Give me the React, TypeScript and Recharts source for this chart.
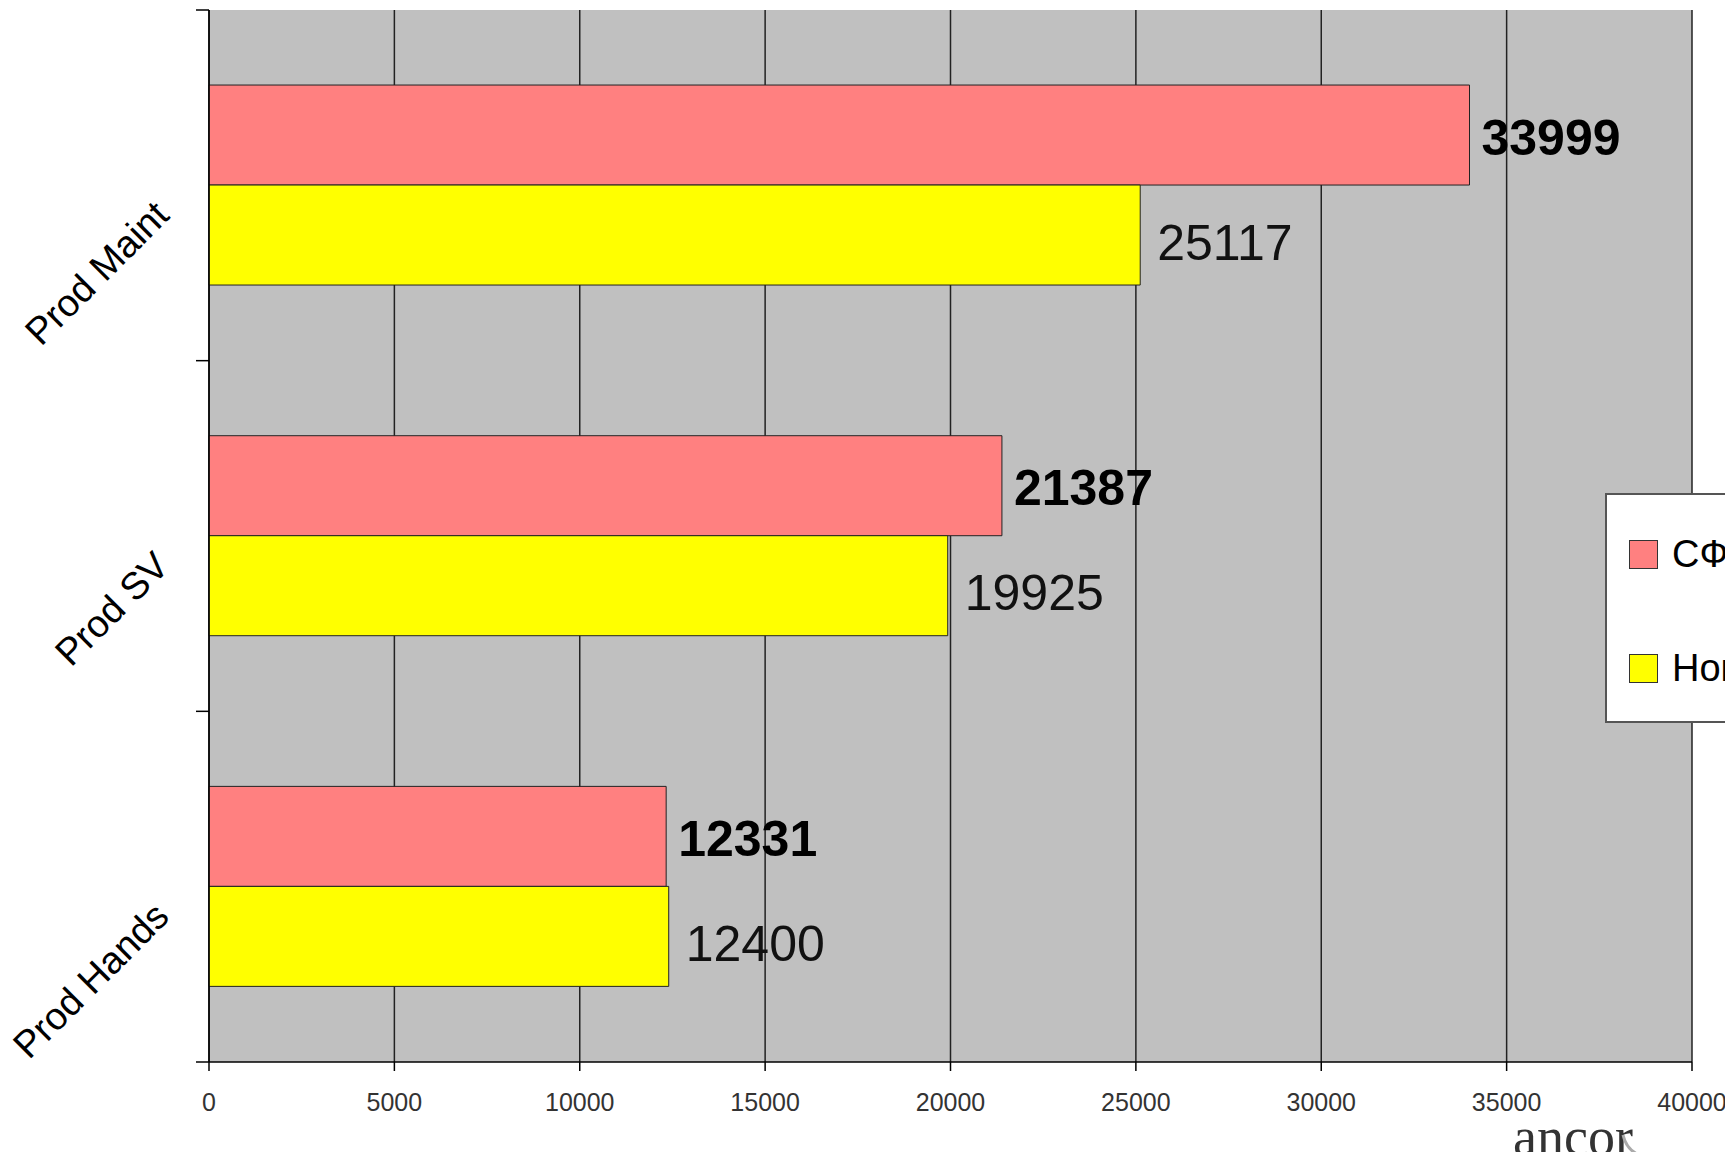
import { BarChart, Bar, XAxis, YAxis, CartesianGrid, LabelList, Legend } from "recharts";

// категории сверху вниз
const categories = ["Prod Maint", "Prod SV", "Prod Hands"];
const sfValues = [33999, 21387, 12331];
const novValues = [25117, 19925, 12400];
const seriesNames = ["СФ", "Новая"];
const xTicks = [0, 5000, 10000, 15000, 20000, 25000, 30000, 35000, 40000];

const data = categories.map((name, i) => ({
    name,
    sf: sfValues[i],
    nov: novValues[i],
}));

// подпись под 45° + засечки на границах категорий (как в Excel)
const CategoryTick = (props: any) => {
    const { x, y, payload, index, height, visibleTicksCount } = props;
    const count = visibleTicksCount || categories.length;
    const band = (height || 1052) / count;
    const ax = x - 38;
    const ay = y + 32;
    return (
        <g>
            <line x1={x - 13} x2={x} y1={y - band / 2} y2={y - band / 2} stroke="#000" strokeWidth={1.5} />
            {index === count - 1 && (
                <line x1={x - 13} x2={x} y1={y + band / 2} y2={y + band / 2} stroke="#000" strokeWidth={1.5} />
            )}
            <text
                x={ax}
                y={ay}
                transform={`rotate(-45 ${ax} ${ay})`}
                textAnchor="end"
                fontSize={38}
                fill="#000"
            >
                {payload.value}
            </text>
        </g>
    );
};

const LegendBox = ({ payload }: any) => {
    const items = [...(payload || [])].sort(
        (a: any, b: any) => seriesNames.indexOf(a.value) - seriesNames.indexOf(b.value)
    );
    return (
        <div style={{
            width: 300,
            height: 230,
            background: "#fff",
            border: "2px solid #555",
            boxSizing: "border-box",
            position: "relative",
        }}>
            {items.map((p: any, i: number) => (
                <div key={p.value} style={{
                    position: "absolute",
                    left: 22,
                    top: 40 + i * 114,
                    display: "flex",
                    alignItems: "center",
                }}>
                    <span style={{
                        display: "inline-block",
                        width: 27,
                        height: 27,
                        background: p.color,
                        border: "1px solid #333",
                    }} />
                    <span style={{ marginLeft: 14, fontSize: 38, lineHeight: 1, color: "#000" }}>
                        {p.value}
                    </span>
                </div>
            ))}
        </div>
    );
};

export default function App() {
    return (
        <div style={{
            width: 1733,
            height: 1160,
            margin: -8,
            overflow: "hidden",
            position: "relative",
            background: "#fff",
            fontFamily: "'Liberation Sans', Arial, sans-serif",
        }}>
            <BarChart
                layout="vertical"
                width={1733}
                height={1160}
                data={data}
                margin={{ top: 10, right: 41, bottom: 0, left: 0 }}
                barCategoryGap="21.4%"
                barGap={0}
            >
                <CartesianGrid
                    horizontal={false}
                    stroke="#222"
                    strokeWidth={1.5}
                    fill="#c0c0c0"
                    fillOpacity={1}
                />
                <XAxis
                    type="number"
                    domain={[0, 40000]}
                    ticks={xTicks}
                    interval={0}
                    height={98}
                    tickSize={9}
                    tickMargin={22}
                    axisLine={{ stroke: "#000", strokeWidth: 1.5 }}
                    tickLine={{ stroke: "#000", strokeWidth: 1.5 }}
                    tick={{ fontSize: 25, fill: "#333" }}
                />
                <YAxis
                    type="category"
                    dataKey="name"
                    width={209}
                    interval={0}
                    tickSize={0}
                    tickMargin={0}
                    tickLine={false}
                    axisLine={{ stroke: "#000", strokeWidth: 1.5 }}
                    tick={<CategoryTick />}
                />
                <Legend
                    layout="vertical"
                    align="center"
                    verticalAlign="middle"
                    wrapperStyle={{ left: 1605, top: 493 }}
                    content={<LegendBox />}
                />
                <Bar
                    dataKey="sf"
                    name={seriesNames[0]}
                    fill="#ff8080"
                    stroke="#222"
                    strokeWidth={1}
                    isAnimationActive={false}
                >
                    <LabelList
                        dataKey="sf"
                        position="right"
                        offset={12}
                        dy={2}
                        fontSize={50}
                        fontWeight="bold"
                        fill="#000"
                    />
                </Bar>
                <Bar
                    dataKey="nov"
                    name={seriesNames[1]}
                    fill="#ffff00"
                    stroke="#222"
                    strokeWidth={1}
                    isAnimationActive={false}
                >
                    <LabelList
                        dataKey="nov"
                        position="right"
                        offset={17}
                        dy={7}
                        fontSize={50}
                        fill="#111"
                    />
                </Bar>
            </BarChart>
            <svg
                width={200}
                height={62}
                style={{ position: "absolute", left: 1500, top: 1098 }}
            >
                <text x={13} y={57} fontSize={54} fontFamily="'Liberation Serif', serif" fill="#333">
                    ancor
                </text>
                <path d="M123 37 Q128 58 152 60" stroke="#aaa" strokeWidth={3} fill="none" />
            </svg>
        </div>
    );
}
